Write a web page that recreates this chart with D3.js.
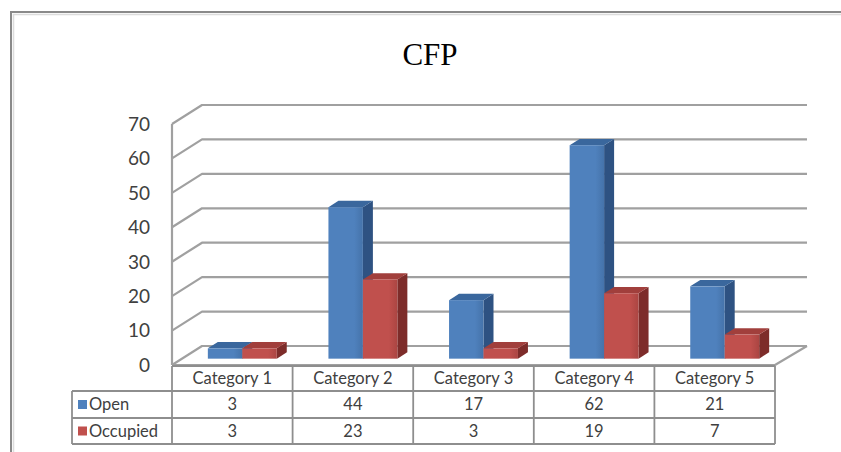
<!DOCTYPE html>
<html>
<head>
<meta charset="utf-8">
<script src="https://cdn.jsdelivr.net/npm/d3@7"></script>
<style>
  html, body { margin: 0; padding: 0; background: #ffffff; }
  svg { display: block; }
</style>
</head>
<body>
<svg id="chart" width="841" height="452"></svg>
<script>
// Data
const categories = ["Category 1", "Category 2", "Category 3", "Category 4", "Category 5"];
const seriesNames = ["Open", "Occupied"];
const openValues = [3, 44, 17, 62, 21];
const occupiedValues = [3, 23, 3, 19, 7];
const yTicks = [0, 10, 20, 30, 40, 50, 60, 70];
const chartTitle = "CFP";

const seriesValues = [openValues, occupiedValues];
const seriesColors = {
  Open:     { front: "#4f81bd", frontEdge: "#4573aa", top: "#3a679d", side: "#2e5282" },
  Occupied: { front: "#c0504d", frontEdge: "#ab4542", top: "#a13f3c", side: "#7d2c2a" }
};

const svg = d3.select("#chart");
const W = 841, H = 452;

// Outer frame
svg.append("rect").attr("x", 11).attr("y", 12).attr("width", W + 20).attr("height", H + 20)
  .attr("fill", "#ffffff").attr("stroke", "#8a8a8a").attr("stroke-width", 2);
svg.append("path").attr("d", `M13.5,${H + 10}V14.5H${W + 10}`)
  .attr("fill", "none").attr("stroke", "#dcdcdc").attr("stroke-width", 1.5);

// Title
svg.append("text").attr("x", 430).attr("y", 65).attr("text-anchor", "middle")
  .attr("font-family", "'Liberation Serif', 'Times New Roman', serif")
  .attr("font-size", 31).attr("fill", "#000").text(chartTitle);

// Plot geometry (oblique projection for the 3-D walls)
const plotLeft = 172, plotRight = 775, floorFront = 365;
const DX = 30, DY = -19;

const x = d3.scaleBand().domain(categories).range([plotLeft, plotRight]);
const xs = d3.scaleBand().domain(seriesNames).range([0, x.bandwidth()]).paddingOuter(0.75);
const y = d3.scaleLinear().domain([0, 70]).range([floorFront, 124]);

const gridColor = "#a0a0a0";
const grid = svg.append("g").attr("fill", "none").attr("stroke", gridColor)
  .attr("stroke-width", 2.2).attr("stroke-linejoin", "round");

// Gridlines on the left wall and back wall
yTicks.forEach(t => {
  const yf = y(t);
  grid.append("path")
    .attr("d", `M${plotLeft},${yf}L${plotLeft + DX},${yf + DY}H${plotRight + DX + 2}`);
});
// Left wall front edge
grid.append("path").attr("d", `M${plotLeft},${y(70)}V${y(0)}`);
// Floor outline
grid.append("path")
  .attr("d", `M${plotLeft},${y(0)}H${plotRight}L${plotRight + DX + 2},${y(0) + DY}`);

// Y-axis labels
const labelFont = "Lato, 'Open Sans', 'Liberation Sans', sans-serif";
svg.append("g").selectAll("text").data(yTicks).join("text")
  .attr("x", 150).attr("y", d => y(d)).attr("dy", "0.36em")
  .attr("text-anchor", "end").attr("font-family", labelFont)
  .attr("font-size", 19).attr("fill", "#404040").text(d => d);

// 3-D bars
const f0 = 1 / 3, f1 = 2 / 3;
const bdx = (f1 - f0) * DX, bdy = (f1 - f0) * DY;
const defs = svg.append("defs");
seriesNames.forEach((s, i) => {
  const c = seriesColors[s];
  const g = defs.append("linearGradient").attr("id", "grad" + i)
    .attr("x1", 0).attr("x2", 1).attr("y1", 0).attr("y2", 0);
  g.append("stop").attr("offset", 0).attr("stop-color", c.front);
  g.append("stop").attr("offset", 0.75).attr("stop-color", c.front);
  g.append("stop").attr("offset", 1).attr("stop-color", c.frontEdge);
});

const bars = svg.append("g");
categories.forEach((cat, ci) => {
  seriesNames.forEach((s, si) => {
    const v = seriesValues[si][ci];
    const c = seriesColors[s];
    const x0 = x(cat) + xs(s) + f0 * DX;
    const x1 = x0 + xs.bandwidth();
    const yb = y(0) + f0 * DY;
    const yt = y(v) + f0 * DY;
    const g = bars.append("g");
    // side face
    g.append("path")
      .attr("d", `M${x1},${yt}L${x1 + bdx},${yt + bdy}L${x1 + bdx},${yb + bdy}L${x1},${yb}Z`)
      .attr("fill", c.side);
    // top face
    g.append("path")
      .attr("d", `M${x0},${yt}L${x0 + bdx},${yt + bdy}L${x1 + bdx},${yt + bdy}L${x1},${yt}Z`)
      .attr("fill", c.top);
    // front face
    g.append("rect").attr("x", x0).attr("y", yt)
      .attr("width", x1 - x0).attr("height", yb - yt)
      .attr("fill", `url(#grad${si})`);
  });
});

// Data table
const tableLeft = 72;
const rowY = [366, 391, 418, 444];
const tableColor = "#8e8e8e";
const table = svg.append("g").attr("stroke", tableColor).attr("stroke-width", 1.8).attr("fill", "none");
// horizontal lines
table.append("path").attr("d", `M${plotLeft},${rowY[0]}H${plotRight}`);
[1, 2, 3].forEach(r => table.append("path").attr("d", `M${tableLeft},${rowY[r]}H${plotRight}`));
// vertical lines
table.append("path").attr("d", `M${tableLeft},${rowY[1]}V${rowY[3]}`);
const colEdges = categories.map(c => x(c)).concat([plotRight]);
colEdges.forEach(cx => table.append("path").attr("d", `M${cx},${rowY[0]}V${rowY[3]}`));

const txt = svg.append("g").attr("font-family", labelFont).attr("fill", "#404040").attr("font-size", 16.5);
// header
categories.forEach(cat => {
  txt.append("text").attr("x", x(cat) + x.bandwidth() / 2).attr("y", (rowY[0] + rowY[1]) / 2)
    .attr("dy", "0.36em").attr("text-anchor", "middle").text(cat);
});
// rows
seriesNames.forEach((s, si) => {
  const cy = (rowY[si + 1] + rowY[si + 2]) / 2;
  svg.append("rect").attr("x", 78).attr("y", cy - 4.5).attr("width", 9).attr("height", 9)
    .attr("fill", seriesColors[s].front);
  txt.append("text").attr("x", 89).attr("y", cy).attr("dy", "0.36em").text(s);
  seriesValues[si].forEach((v, ci) => {
    txt.append("text").attr("x", x(categories[ci]) + x.bandwidth() / 2).attr("y", cy)
      .attr("dy", "0.36em").attr("text-anchor", "middle").text(v);
  });
});
</script>
</body>
</html>
